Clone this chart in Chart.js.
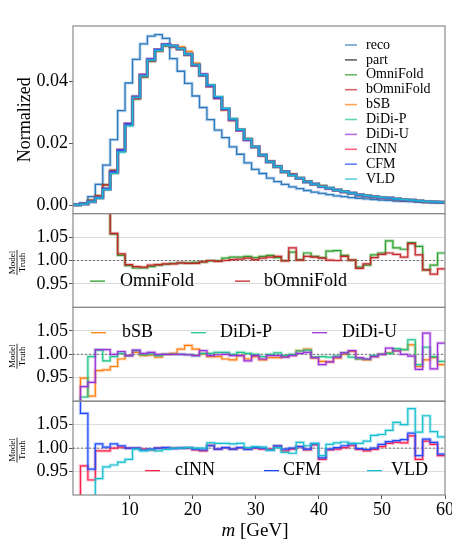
<!DOCTYPE html>
<html lang="en">
<head>
    <meta charset="UTF-8">
    <title>Jet mass unfolding</title>
    <style>
        html, body {
            margin: 0;
            padding: 0;
            background: #fff;
            overflow: hidden;
        }

        #wrap {
            position: relative;
            width: 470px;
            height: 539px;
        }
    </style>
</head>
<body>
<div id="wrap">
    <canvas id="chart" width="470" height="539"></canvas>
</div>
<script src="https://cdn.jsdelivr.net/npm/chart.js@4.4.1/dist/chart.umd.min.js"></script>
<script>
    // bin edges in GeV (50 bins)
    const edges = [1.00, 2.18, 3.36, 4.54, 5.72, 6.90, 8.08, 9.26, 10.44, 11.62, 12.80, 13.98, 15.16, 16.34,
        17.52, 18.70, 19.88, 21.06, 22.24, 23.42, 24.60, 25.78, 26.96, 28.14, 29.32, 30.50, 31.68, 32.86,
        34.04, 35.22, 36.40, 37.58, 38.76, 39.94, 41.12, 42.30, 43.48, 44.66, 45.84, 47.02, 48.20, 49.38,
        50.56, 51.74, 52.92, 54.10, 55.28, 56.46, 57.64, 58.82, 60.00];

    const xTicks = [10, 20, 30, 40, 50, 60];
    const mainTicks = [0, 0.02, 0.04];
    const ratioTicks = [0.95, 1.00, 1.05];

    const reco = [0.0002, 0.0006, 0.0027, 0.0067, 0.0129, 0.0211, 0.0305, 0.0394, 0.0470, 0.0520,
        0.0545, 0.0550, 0.0538, 0.0473, 0.0432, 0.0393, 0.0352, 0.0315, 0.0276, 0.0242,
        0.0218, 0.0188, 0.0164, 0.0136, 0.0115, 0.0102, 0.0087, 0.0076, 0.0067, 0.0059,
        0.0053, 0.0047, 0.0042, 0.0038, 0.0034, 0.0030, 0.0027, 0.0024, 0.0022, 0.0020,
        0.0018, 0.0016, 0.0015, 0.0013, 0.0012, 0.0011, 0.0010, 0.0009, 0.0008, 0.0007];

    const part = [0.0001, 0.0004, 0.0012, 0.0024, 0.0052, 0.0106, 0.0176, 0.0262, 0.0348, 0.0420,
        0.0470, 0.0502, 0.0518, 0.0514, 0.0505, 0.0487, 0.0453, 0.0420, 0.0384, 0.0347,
        0.0309, 0.0276, 0.0242, 0.0212, 0.0188, 0.0161, 0.0140, 0.0124, 0.0108, 0.0097,
        0.0086, 0.0075, 0.0067, 0.0061, 0.0054, 0.0048, 0.0043, 0.0038, 0.0033, 0.0030,
        0.0027, 0.0024, 0.0022, 0.0019, 0.0017, 0.0015, 0.0013, 0.0011, 0.0010, 0.0009];

    // model / truth ratios per bin
    const omnifold = [1.25, 1.25, 1.25, 1.25, 1.25, 1.056, 1.011, 0.989, 0.984, 0.984,
        0.987, 0.990, 0.992, 0.994, 0.995, 0.995, 0.996, 0.997, 0.999, 0.999,
        1.005, 1.007, 1.007, 1.009, 1.006, 1.009, 1.011, 1.006, 1.000, 1.018,
        1.002, 1.016, 1.009, 1.006, 1.020, 1.021, 1.011, 1.001, 0.986, 0.990,
        1.012, 1.016, 1.042, 1.027, 1.024, 1.038, 1.030, 0.980, 0.990, 1.016];

    const bomnifold = [1.25, 1.25, 1.25, 1.25, 1.25, 1.058, 1.014, 0.991, 0.987, 0.986,
        0.990, 0.991, 0.993, 0.993, 0.995, 0.994, 0.994, 0.997, 1.000, 0.998,
        1.000, 1.002, 1.003, 1.005, 1.002, 1.005, 1.007, 1.009, 0.999, 1.027,
        1.001, 1.009, 1.007, 1.005, 1.001, 1.000, 1.009, 1.001, 0.983, 0.993,
        1.006, 1.013, 1.016, 1.013, 1.007, 1.036, 1.012, 0.980, 0.971, 0.982];

    const bsb = [0.85, 0.949, 0.911, 0.965, 0.967, 0.974, 0.990, 0.997, 1.004, 0.997,
        0.998, 0.994, 1.000, 1.002, 1.011, 1.019, 1.011, 1.001, 0.995, 0.995,
        0.990, 0.988, 0.997, 0.990, 0.995, 0.988, 0.993, 0.993, 0.995, 0.998,
        1.008, 1.011, 0.992, 0.985, 0.984, 0.992, 1.000, 1.006, 0.990, 0.988,
        0.995, 1.000, 1.003, 1.008, 1.010, 1.020, 0.974, 0.988, 0.993, 0.978];

    const didiP = [0.85, 0.909, 0.995, 1.009, 0.986, 0.995, 1.002, 0.997, 1.008, 0.999,
        1.001, 0.997, 1.000, 1.000, 1.000, 0.999, 0.997, 1.002, 1.002, 1.004,
        1.004, 1.000, 1.004, 1.002, 1.000, 0.995, 1.000, 1.003, 0.997, 1.000,
        1.007, 1.009, 0.994, 0.995, 0.994, 0.996, 1.003, 0.994, 0.990, 0.990,
        0.997, 1.000, 1.002, 1.012, 1.010, 1.031, 0.978, 1.015, 0.995, 0.985];

    const didiU = [0.85, 0.931, 0.940, 1.010, 1.010, 1.000, 1.006, 0.997, 1.009, 1.002,
        1.004, 1.000, 1.000, 1.000, 1.000, 0.999, 0.997, 1.008, 0.997, 0.999,
        1.000, 0.997, 0.997, 0.986, 0.997, 0.990, 0.997, 0.997, 0.994, 0.997,
        1.002, 1.004, 0.993, 0.978, 0.984, 0.994, 1.003, 1.008, 0.993, 0.990,
        0.995, 1.000, 1.013, 1.007, 1.000, 0.996, 0.968, 1.045, 0.969, 1.024];

    const cinn = [0.85, 0.962, 0.932, 0.994, 0.994, 1.000, 1.002, 1.000, 1.000, 0.998,
        0.996, 1.000, 1.001, 1.000, 1.000, 1.000, 0.996, 0.994, 1.006, 0.998,
        1.001, 0.998, 1.001, 0.998, 1.000, 0.998, 0.998, 1.004, 0.994, 0.998,
        1.003, 0.996, 1.007, 0.976, 0.996, 0.998, 1.001, 1.005, 0.997, 0.994,
        0.997, 1.003, 1.010, 1.012, 1.011, 1.026, 0.976, 1.015, 1.008, 0.984];

    const cfm = [1.20, 1.074, 0.955, 1.009, 1.002, 1.009, 1.005, 1.000, 1.000, 0.996,
        0.998, 1.000, 1.001, 0.999, 1.000, 1.001, 0.998, 0.996, 1.005, 0.998,
        1.001, 0.998, 1.001, 0.997, 1.001, 1.000, 0.996, 1.005, 0.998, 1.000,
        1.003, 0.998, 1.009, 0.979, 0.998, 1.001, 1.005, 1.009, 0.999, 0.997,
        1.000, 1.008, 1.014, 1.016, 1.018, 1.032, 0.984, 1.019, 1.012, 0.987];

    const vld = [0.85, 0.85, 0.85, 0.935, 0.960, 0.964, 0.970, 0.976, 0.998, 0.994,
        0.996, 0.994, 0.997, 1.000, 1.000, 1.001, 1.000, 1.000, 1.011, 1.010,
        1.010, 1.009, 1.010, 1.001, 1.003, 1.002, 0.995, 1.001, 0.991, 0.989,
        1.012, 1.005, 1.010, 0.984, 1.008, 1.011, 1.013, 1.010, 1.010, 1.015,
        1.027, 1.029, 1.038, 1.055, 1.050, 1.084, 1.034, 1.069, 1.035, 1.024];

    const serif = "'Liberation Serif', 'Times New Roman', serif";

    const models = [
        {label: 'OmniFold', color: '#2ca02c', ratio: omnifold, panel: 'r1'},
        {label: 'bOmniFold', color: '#c4262b', ratio: bomnifold, panel: 'r1'},
        {label: 'bSB', color: '#ff7f0e', ratio: bsb, panel: 'r2'},
        {label: 'DiDi-P', color: '#1fc48a', ratio: didiP, panel: 'r2'},
        {label: 'DiDi-U', color: '#9a32d8', ratio: didiU, panel: 'r2'},
        {label: 'cINN', color: '#ff1f4b', ratio: cinn, panel: 'r3'},
        {label: 'CFM', color: '#1f4bff', ratio: cfm, panel: 'r3'},
        {label: 'VLD', color: '#17becf', ratio: vld, panel: 'r3'},
    ];
    const recoColor = '#2a78bd';
    const partColor = '#222222';

    function steps(values) {
        const pts = values.map((v, i) => ({x: edges[i], y: v}));
        pts.push({x: edges[edges.length - 1], y: values[values.length - 1]});
        return pts;
    }

    function alpha(hex, a) {
        const n = parseInt(hex.slice(1), 16);
        return `rgba(${(n >> 16) & 255},${(n >> 8) & 255},${n & 255},${a})`;
    }

    const datasets = [];

    function addHist(values, color, axis, width) {
        // light band under the line, then the line itself
        datasets.push({data: steps(values), yAxisID: axis, borderColor: alpha(color, 0.28), borderWidth: 3.2});
        datasets.push({data: steps(values), yAxisID: axis, borderColor: color, borderWidth: width});
    }

    addHist(reco, recoColor, 'y', 1.3);
    addHist(part, partColor, 'y', 1.3);
    models.forEach(m => addHist(part.map((v, i) => v * m.ratio[i]), m.color, 'y', 1.2));

    ['r1', 'r2', 'r3'].forEach(id => {
        datasets.push({
            data: [{x: edges[0], y: 1}, {x: edges[edges.length - 1], y: 1}],
            yAxisID: id, borderColor: '#555', borderWidth: 0.8, borderDash: [2, 2], stepped: false
        });
    });
    models.forEach(m => addHist(m.ratio, m.color, m.panel, 1.2));

    datasets.forEach((d, i) => {
        d.order = -i;
        d.pointRadius = 0;
        d.fill = false;
        if (d.stepped === undefined) d.stepped = true;
    });

    const tickFont = {family: serif, size: 18};

    function ratioAxis(weight) {
        return {
            type: 'linear', position: 'left', stack: 'panels', stackWeight: 1, weight: weight,
            min: 0.9, max: 1.1,
            afterBuildTicks: s => { s.ticks = ratioTicks.map(v => ({value: v})); },
            afterFit: s => { s.width = 73; },
            ticks: {font: tickFont, color: '#000', padding: 1, callback: v => v.toFixed(2)},
            grid: {color: '#dcdcdc', lineWidth: 1, tickLength: 4, tickColor: '#555'},
            border: {display: false}
        };
    }

    // frames around each panel, drawn like axes spines
    const frames = {
        id: 'frames',
        afterDatasetsDraw(chart) {
            const ctx = chart.ctx, a = chart.chartArea;
            ctx.save();
            ctx.strokeStyle = '#8a8a8a';
            ctx.lineWidth = 1.2;
            ['y', 'r1', 'r2', 'r3'].forEach(id => {
                const s = chart.scales[id];
                ctx.strokeRect(a.left, s.top, a.right - a.left, s.bottom - s.top);
            });
            ctx.restore();
        }
    };

    // keep each line inside its own panel
    const clipPanels = {
        id: 'clipPanels',
        beforeDatasetDraw(chart, args) {
            const s = args.meta.yScale, a = chart.chartArea, ctx = chart.ctx;
            ctx.save();
            ctx.beginPath();
            ctx.rect(a.left, s.top, a.right - a.left, s.bottom - s.top);
            ctx.clip();
        },
        afterDatasetDraw(chart) {
            chart.ctx.restore();
        }
    };

    const mainLegend = [{label: 'reco', color: recoColor}, {label: 'part', color: partColor}]
        .concat(models.map(m => ({label: m.label, color: m.color})));

    const ratioLegends = {
        r1: [{x: 90, t: 120}, {x: 235, t: 264}],
        r2: [{x: 91, t: 122}, {x: 191, t: 220}, {x: 312, t: 342}],
        r3: [{x: 145, t: 175}, {x: 264, t: 283}, {x: 367, t: 391}]
    };
    // legend row height inside each ratio panel, as a fraction from the bottom
    const ratioLegendY = {r1: 0.28, r2: 0.73, r3: 0.26};

    const legends = {
        id: 'legends',
        afterDraw(chart) {
            const ctx = chart.ctx;
            ctx.save();
            ctx.textBaseline = 'middle';
            ctx.textAlign = 'left';
            // main panel legend
            ctx.font = `14px ${serif}`;
            mainLegend.forEach((it, k) => {
                const y = 45 + k * 14.9;
                ctx.globalAlpha = 0.7;
                ctx.strokeStyle = it.color;
                ctx.lineWidth = 1.6;
                ctx.beginPath();
                ctx.moveTo(345, y);
                ctx.lineTo(357, y);
                ctx.stroke();
                ctx.globalAlpha = 1;
                ctx.fillStyle = '#000';
                ctx.fillText(it.label, 366, y);
            });
            // ratio panel legends
            ctx.font = `18px ${serif}`;
            Object.keys(ratioLegends).forEach(id => {
                const s = chart.scales[id];
                const y = s.bottom - (s.bottom - s.top) * ratioLegendY[id];
                const items = models.filter(m => m.panel === id);
                ratioLegends[id].forEach((pos, k) => {
                    ctx.strokeStyle = items[k].color;
                    ctx.lineWidth = 1.3;
                    ctx.beginPath();
                    ctx.moveTo(pos.x, y);
                    ctx.lineTo(pos.x + 15, y);
                    ctx.stroke();
                    ctx.fillStyle = '#000';
                    ctx.fillText(items[k].label, pos.t, y);
                });
            });
            ctx.restore();
        }
    };

    const fracLabels = {
        id: 'fracLabels',
        afterDraw(chart) {
            const ctx = chart.ctx;
            ['r1', 'r2', 'r3'].forEach(id => {
                const s = chart.scales[id];
                const cy = (s.top + s.bottom) / 2 + 2;
                ctx.save();
                ctx.translate(17, cy);
                ctx.rotate(-Math.PI / 2);
                ctx.fillStyle = '#000';
                ctx.font = `9px ${serif}`;
                ctx.textAlign = 'center';
                ctx.textBaseline = 'alphabetic';
                ctx.fillText('Model', 0, -1.6);
                ctx.textBaseline = 'top';
                ctx.fillText('Truth', 0, 1.2);
                ctx.fillRect(-12.5, -0.4, 25, 0.8);
                ctx.restore();
            });
            // x axis title with italic m
            const x = chart.scales.x;
            const cx = (x.left + x.right) / 2 - 4;
            ctx.save();
            ctx.fillStyle = '#000';
            ctx.textBaseline = 'middle';
            ctx.textAlign = 'left';
            ctx.font = `italic 19px ${serif}`;
            const mW = ctx.measureText('m').width;
            ctx.font = `19px ${serif}`;
            const rest = ' [GeV]';
            const rW = ctx.measureText(rest).width;
            const start = cx - (mW + rW) / 2;
            ctx.font = `italic 19px ${serif}`;
            ctx.fillText('m', start, 531);
            ctx.font = `19px ${serif}`;
            ctx.fillText(rest, start + mW, 531);
            ctx.restore();
        }
    };

    new Chart('chart', {
        type: 'line',
        data: {datasets},
        options: {
            responsive: false,
            animation: false,
            events: [],
            layout: {padding: {top: 26, left: 0, right: 25, bottom: 0}},
            plugins: {
                legend: {display: false},
                tooltip: {enabled: false}
            },
            scales: {
                x: {
                    type: 'linear', position: 'bottom', min: edges[0], max: edges[edges.length - 1],
                    afterBuildTicks: s => { s.ticks = xTicks.map(v => ({value: v})); },
                    afterFit: s => { s.height = 44; },
                    ticks: {font: tickFont, color: '#000', padding: 0, maxRotation: 0},
                    grid: {drawOnChartArea: false, tickLength: 4, tickColor: '#555'},
                    border: {display: false}
                },
                y: {
                    type: 'linear', position: 'left', stack: 'panels', stackWeight: 2, weight: 4,
                    min: -0.00275, max: 0.0578,
                    afterBuildTicks: s => { s.ticks = mainTicks.map(v => ({value: v})); },
                    afterFit: s => { s.width = 73; },
                    ticks: {font: tickFont, color: '#000', padding: 1, callback: v => v.toFixed(2)},
                    grid: {drawOnChartArea: false, tickLength: 4, tickColor: '#555'},
                    border: {display: false},
                    title: {
                        display: true, text: 'Normalized', color: '#000',
                        font: {family: serif, size: 18}, padding: {top: 14, bottom: 0}
                    }
                },
                r1: ratioAxis(3),
                r2: ratioAxis(2),
                r3: ratioAxis(1)
            }
        },
        plugins: [clipPanels, frames, legends, fracLabels]
    });
</script>
</body>
</html>
